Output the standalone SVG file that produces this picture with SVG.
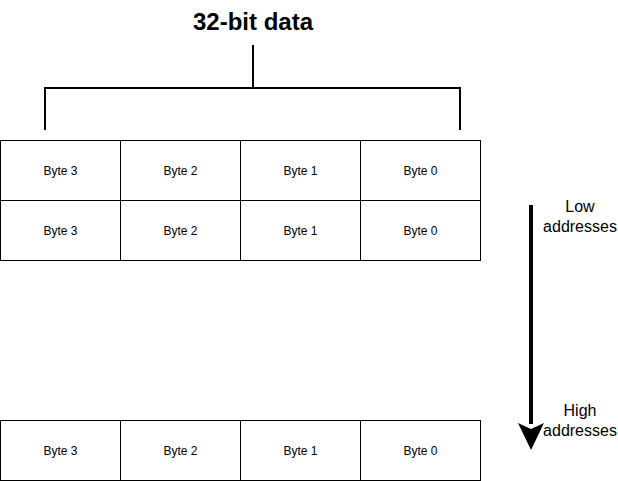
<svg xmlns="http://www.w3.org/2000/svg" width="618" height="481" viewBox="0 0 618 481">
<style>
.cell{fill:#fff;stroke:#000;stroke-width:1}
.bt{font-family:"Liberation Sans",Arial,sans-serif;font-size:12px;fill:#000;text-anchor:middle;dominant-baseline:central}
.lbl{font-family:"Liberation Sans",Arial,sans-serif;font-size:16px;fill:#000;text-anchor:middle}
.br{fill:none;stroke:#000;stroke-width:2}
</style>
<rect width="618" height="481" fill="#fff"/>
<text x="253" y="30" font-family="Liberation Sans,Arial,sans-serif" font-size="24" font-weight="bold" text-anchor="middle">32-bit data</text>
<g id="connectors">
<path class="br" d="M253,45 V88 M45,130 V88 H460 V130"/>
<line x1="531" y1="205" x2="531" y2="424" stroke="#000" stroke-width="4"/>
<path d="M518,423 L531,429 L544,423 L531,450 Z" fill="#000"/>
</g>
<g id="row1">
<rect class="cell" x="0.5" y="140.5" width="120" height="60"/><text class="bt" x="60.5" y="170.5">Byte 3</text>
<rect class="cell" x="120.5" y="140.5" width="120" height="60"/><text class="bt" x="180.5" y="170.5">Byte 2</text>
<rect class="cell" x="240.5" y="140.5" width="120" height="60"/><text class="bt" x="300.5" y="170.5">Byte 1</text>
<rect class="cell" x="360.5" y="140.5" width="120" height="60"/><text class="bt" x="420.5" y="170.5">Byte 0</text>
</g>
<g id="row2">
<rect class="cell" x="0.5" y="200.5" width="120" height="60"/><text class="bt" x="60.5" y="230.5">Byte 3</text>
<rect class="cell" x="120.5" y="200.5" width="120" height="60"/><text class="bt" x="180.5" y="230.5">Byte 2</text>
<rect class="cell" x="240.5" y="200.5" width="120" height="60"/><text class="bt" x="300.5" y="230.5">Byte 1</text>
<rect class="cell" x="360.5" y="200.5" width="120" height="60"/><text class="bt" x="420.5" y="230.5">Byte 0</text>
</g>
<g id="row3">
<rect class="cell" x="0.5" y="420.5" width="120" height="60"/><text class="bt" x="60.5" y="450.5">Byte 3</text>
<rect class="cell" x="120.5" y="420.5" width="120" height="60"/><text class="bt" x="180.5" y="450.5">Byte 2</text>
<rect class="cell" x="240.5" y="420.5" width="120" height="60"/><text class="bt" x="300.5" y="450.5">Byte 1</text>
<rect class="cell" x="360.5" y="420.5" width="120" height="60"/><text class="bt" x="420.5" y="450.5">Byte 0</text>
</g>
<g id="low">
<text class="lbl" x="580" y="212">Low</text>
<text class="lbl" x="580" y="232">addresses</text>
</g>
<g id="high">
<text class="lbl" x="580" y="416">High</text>
<text class="lbl" x="580" y="436">addresses</text>
</g>
</svg>
